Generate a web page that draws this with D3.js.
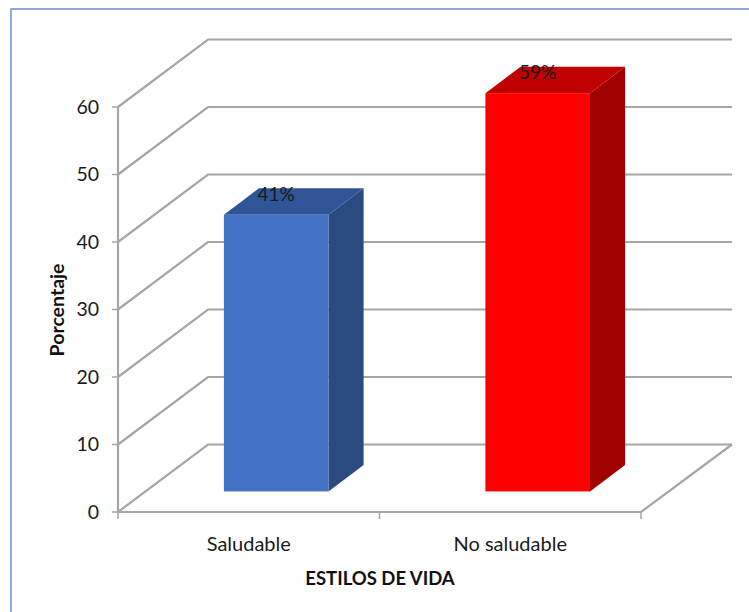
<!DOCTYPE html>
<html><head><meta charset="utf-8">
<script src="https://cdn.jsdelivr.net/npm/d3@7"></script>
<style>html,body{margin:0;padding:0;background:#fff;}</style>
</head><body>
<svg id="c" width="749" height="612"></svg>
<script>
const categories = ["Saludable", "No saludable"];
const values = [41, 59];
const valueLabels = ["41%", "59%"];
const yTicks = [0, 10, 20, 30, 40, 50, 60];
const frontColors = ["#4472C4", "#FF0000"];
const topColors = ["#2F5597", "#C00000"];
const sideColors = ["#2B4A80", "#A00000"];

const svg = d3.select("#c");
const font = "Lato, 'Liberation Sans', sans-serif";
const gridColor = "#A6A6A6";

// chart frame
svg.append("rect").attr("x", 11).attr("y", 9).attr("width", 760).attr("height", 640)
  .attr("fill", "none").attr("stroke", "#6E8FD0").attr("stroke-width", 1.5);

const y = d3.scaleLinear().domain([0, 60]).range([512, 107]);
const x = d3.scaleBand().domain(categories).range([118, 641]).padding(0);
const depthX = 90, depthY = y(10) - y(0); // negative
const backRight = 732;

const g = svg.append("g");

// gridlines: side wall diagonal + back wall horizontal
yTicks.forEach(v => {
  const fy = y(v);
  g.append("path")
    .attr("d", `M118,${fy} L${118 + depthX},${fy + depthY} L${backRight},${fy + depthY}`)
    .attr("fill", "none").attr("stroke", gridColor).attr("stroke-width", 2.2);
});
// floor front and right edges
g.append("path")
  .attr("d", `M118,${y(0)} L641,${y(0)} L${backRight},${y(0) + depthY}`)
  .attr("fill", "none").attr("stroke", gridColor).attr("stroke-width", 2.2);
// y axis line
g.append("line").attr("x1", 118).attr("x2", 118).attr("y1", y(60)).attr("y2", y(0))
  .attr("stroke", gridColor).attr("stroke-width", 2.2);

// y ticks and labels
yTicks.forEach(v => {
  g.append("line").attr("x1", 112).attr("x2", 118).attr("y1", y(v)).attr("y2", y(v))
    .attr("stroke", gridColor).attr("stroke-width", 1.5);
  g.append("text").attr("x", 99).attr("y", y(v)).attr("dy", "0.35em")
    .attr("text-anchor", "end").attr("font-family", font).attr("font-size", 19.5)
    .attr("fill", "#1a1a1a").text(v);
});

// category ticks
const catEdges = [x.range()[0], ...categories.map(c => x(c) + x.bandwidth())];
catEdges.forEach(cx => {
  g.append("line").attr("x1", cx).attr("x2", cx).attr("y1", y(0)).attr("y2", y(0) + 7)
    .attr("stroke", gridColor).attr("stroke-width", 1.5);
});
categories.forEach(c => {
  g.append("text").attr("x", x(c) + x.bandwidth() / 2).attr("y", 551)
    .attr("text-anchor", "middle").attr("font-family", font).attr("font-size", 20)
    .attr("fill", "#1a1a1a").text(c);
});

// bars
const barW = x.bandwidth() * 0.4;
const dFront = 0.305, dBack = 0.695;
categories.forEach((c, i) => {
  const cx = x(c) + x.bandwidth() / 2 + depthX * dFront;
  const x0 = cx - barW / 2, x1 = cx + barW / 2;
  const yb = y(0) + depthY * dFront, yt = y(values[i]) + depthY * dFront;
  const ddx = depthX * (dBack - dFront), ddy = depthY * (dBack - dFront);
  // side
  g.append("path").attr("d", `M${x1},${yb} L${x1 + ddx},${yb + ddy} L${x1 + ddx},${yt + ddy} L${x1},${yt} Z`)
    .attr("fill", sideColors[i]);
  // top
  g.append("path").attr("d", `M${x0},${yt} L${x1},${yt} L${x1 + ddx},${yt + ddy} L${x0 + ddx},${yt + ddy} Z`)
    .attr("fill", topColors[i]);
  // front
  g.append("rect").attr("x", x0).attr("y", yt).attr("width", barW).attr("height", yb - yt)
    .attr("fill", frontColors[i]);
  // label
  g.append("text").attr("x", cx).attr("y", yt - 14).attr("text-anchor", "middle")
    .attr("font-family", font).attr("font-size", 19).attr("fill", "#1a1a1a").text(valueLabels[i]);
});

// axis titles
svg.append("text").attr("transform", "translate(64,310) rotate(-90)")
  .attr("text-anchor", "middle").attr("font-family", font).attr("font-size", 19.5)
  .attr("font-weight", "bold").attr("fill", "#111").text("Porcentaje");
svg.append("text").attr("x", 380).attr("y", 585).attr("text-anchor", "middle")
  .attr("font-family", font).attr("font-size", 18.5).attr("font-weight", "bold")
  .attr("fill", "#111").text("ESTILOS DE VIDA");
</script>
</body></html>
